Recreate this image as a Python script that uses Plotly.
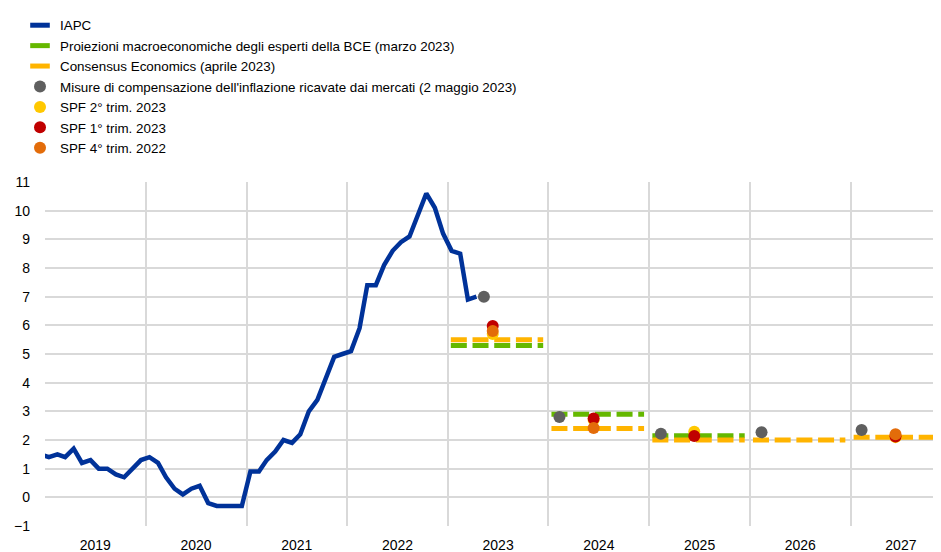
import pandas as pd
import plotly.graph_objects as go

# ---- data ----
hicp_start = "2018-12-01"
hicp_values = [1.5,
               1.4, 1.5, 1.4, 1.7, 1.2, 1.3, 1.0, 1.0, 0.8, 0.7, 1.0, 1.3,
               1.4, 1.2, 0.7, 0.3, 0.1, 0.3, 0.4, -0.2, -0.3, -0.3, -0.3, -0.3,
               0.9, 0.9, 1.3, 1.6, 2.0, 1.9, 2.2, 3.0, 3.4, 4.1, 4.9, 5.0,
               5.1, 5.9, 7.4, 7.4, 8.1, 8.6, 8.9, 9.1, 9.9, 10.6, 10.1, 9.2,
               8.6, 8.5, 6.9, 7.0]

ecb_years = [2023, 2024, 2025]
ecb_values = [5.3, 2.9, 2.15]

consensus_years = [2023, 2024, 2025, 2026, 2027]
consensus_values = [5.5, 2.4, 2.0, 2.0, 2.1]

market_dates = ["2023-05-12", "2024-02-10", "2025-02-12", "2026-02-12", "2027-02-10"]
market_values = [7.0, 2.8, 2.22, 2.27, 2.35]

spf_years = [2023, 2024, 2025, 2027]
spf_q2_2023 = [5.7, 2.7, 2.29, 2.1]
spf_q1_2023 = [5.98, 2.75, 2.14, 2.12]
spf_q4_2022 = [5.8, 2.42, None, 2.2]

names = ["IAPC",
         "Proiezioni macroeconomiche degli esperti della BCE (marzo 2023)",
         "Consensus Economics (aprile 2023)",
         "Misure di compensazione dell'inflazione ricavate dai mercati (2 maggio 2023)",
         "SPF 2° trim. 2023",
         "SPF 1° trim. 2023",
         "SPF 4° trim. 2022"]

C_BLUE = "#003299"
C_GREEN = "#65B800"
C_YELLOW = "#FFB400"
C_GREY = "#5F5F5F"
C_SPF2 = "#FFC800"
C_SPF1 = "#C00000"
C_SPF4 = "#E36C0A"

hicp_dates = pd.date_range(hicp_start, periods=len(hicp_values), freq="MS") + pd.Timedelta(days=14)


def year_segments(years, values):
    xs, ys = [], []
    for yr, v in zip(years, values):
        xs += [f"{yr}-01-12", f"{yr}-12-13", None]
        ys += [v, v, None]
    return xs, ys


def spf_dates(years):
    return [f"{y}-06-13" for y in years]


fig = go.Figure()

fig.add_trace(go.Scatter(x=hicp_dates, y=hicp_values, mode="lines",
                         line=dict(color=C_BLUE, width=4.5), showlegend=False))

ex, ey = year_segments(ecb_years, ecb_values)
fig.add_trace(go.Scatter(x=ex, y=ey, mode="lines",
                         line=dict(color=C_GREEN, width=5, dash="16px,5.7px"),
                         showlegend=False))
cx, cy = year_segments(consensus_years, consensus_values)
fig.add_trace(go.Scatter(x=cx, y=cy, mode="lines",
                         line=dict(color=C_YELLOW, width=5, dash="16px,5.7px"),
                         showlegend=False))

fig.add_trace(go.Scatter(x=market_dates, y=market_values, mode="markers",
                         marker=dict(color=C_GREY, size=12), showlegend=False))
for vals, col in [(spf_q2_2023, C_SPF2), (spf_q1_2023, C_SPF1), (spf_q4_2022, C_SPF4)]:
    fig.add_trace(go.Scatter(x=spf_dates(spf_years), y=vals, mode="markers",
                             marker=dict(color=col, size=12), showlegend=False))

# legend entries
for name, col, sym in [(names[0], C_BLUE, "line"), (names[1], C_GREEN, "line"),
                       (names[2], C_YELLOW, "line"), (names[3], C_GREY, "dot"),
                       (names[4], C_SPF2, "dot"), (names[5], C_SPF1, "dot"),
                       (names[6], C_SPF4, "dot")]:
    if sym == "line":
        mk = dict(symbol="line-ew", size=14, line=dict(color=col, width=5))
    else:
        mk = dict(symbol="circle", size=12, color=col)
    fig.add_trace(go.Scatter(x=[None], y=[None], mode="markers", name=name,
                             marker=mk, showlegend=True))

W, H = 933, 544
fig.update_layout(
    width=W, height=H,
    margin=dict(l=37, r=0, t=174, b=26, autoexpand=False),
    plot_bgcolor="white", paper_bgcolor="white",
    font=dict(family="Liberation Sans, Arial, sans-serif", size=14, color="#000000"),
    legend=dict(x=12 / W, y=1 - 2 / H, xref="container", yref="container",
                xanchor="left", yanchor="top", bgcolor="rgba(0,0,0,0)",
                itemwidth=30, tracegroupgap=0,
                font=dict(size=13.4)),
)
fig.update_xaxes(
    type="date", range=["2019-01-01", "2027-11-25"],
    tick0="2019-01-01", dtick="M12", tickformat="%Y", ticklabelmode="period",
    showgrid=True, gridcolor="#d9d9d9", gridwidth=1.5,
    showline=False, zeroline=False, ticks="", ticklabelstandoff=9,
)
fig.update_yaxes(
    range=[-1, 11], dtick=1, showgrid=True, gridcolor="#d9d9d9", gridwidth=1.5,
    zeroline=False, showline=False, ticks="", ticklabelstandoff=14,
)

fig.write_html("out.html")
